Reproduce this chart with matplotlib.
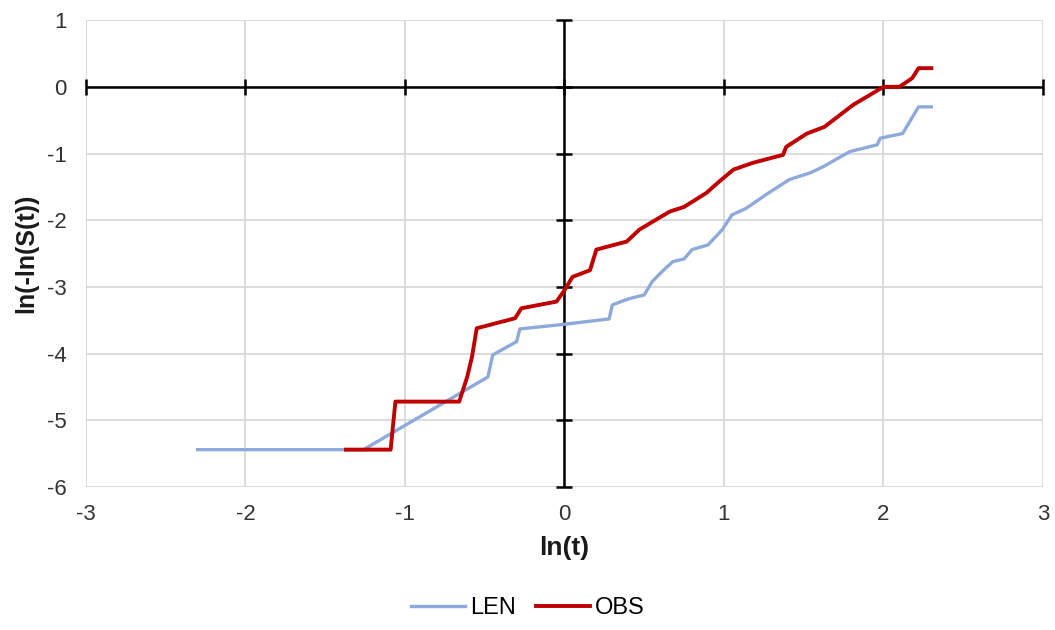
import matplotlib
matplotlib.use("Agg")
import matplotlib.pyplot as plt
import numpy as np

plt.rcParams['font.family'] = ['Liberation Sans', 'DejaVu Sans']
plt.rcParams['axes.unicode_minus'] = False

len_x = [-2.30, -1.26, -0.48, -0.45, -0.30, -0.28, 0.00, 0.28, 0.30, 0.40, 0.50, 0.55,
         0.62, 0.68, 0.75, 0.80, 0.90, 0.99, 1.05, 1.14, 1.28, 1.41, 1.54, 1.62, 1.73,
         1.79, 1.96, 1.98, 2.12, 2.17, 2.22, 2.30]
len_y = [-5.44, -5.44, -4.35, -4.02, -3.82, -3.63, -3.56, -3.48, -3.27, -3.18, -3.12, -2.92,
         -2.75, -2.62, -2.58, -2.44, -2.37, -2.14, -1.92, -1.82, -1.59, -1.39, -1.29, -1.20, -1.05,
         -0.97, -0.87, -0.77, -0.70, -0.50, -0.30, -0.30]

obs_x = [-1.37, -1.09, -1.06, -0.66, -0.61, -0.58, -0.55, -0.31, -0.27, -0.05, 0.00, 0.05,
         0.16, 0.20, 0.39, 0.47, 0.66, 0.75, 0.89, 0.97, 1.06, 1.18, 1.37, 1.39, 1.52, 1.63,
         1.81, 2.00, 2.10, 2.18, 2.22, 2.30]
obs_y = [-5.44, -5.44, -4.72, -4.72, -4.35, -4.05, -3.62, -3.47, -3.32, -3.22, -3.05, -2.85,
         -2.75, -2.44, -2.32, -2.14, -1.87, -1.80, -1.59, -1.42, -1.24, -1.14, -1.02, -0.90, -0.70, -0.60,
         -0.27, 0.00, 0.00, 0.13, 0.28, 0.28]

x_ticks = [-3, -2, -1, 0, 1, 2, 3]
y_ticks = [-6, -5, -4, -3, -2, -1, 0, 1]

fig = plt.figure(figsize=(10.55, 6.3), dpi=100)
ax = fig.add_axes([0.0815, 0.227, 0.9071, 0.741])
ax.set_xlim(-3, 3)
ax.set_ylim(-6, 1)
ax.set_xticks(x_ticks)
ax.set_yticks(y_ticks)
ax.grid(True, color='#d9d9d9', linewidth=1.3)
ax.set_axisbelow(True)
for s in ax.spines.values():
    s.set_visible(False)
ax.tick_params(length=0, labelsize=16, colors='#333333')
ax.tick_params(axis='x', pad=12)
ax.tick_params(axis='y', pad=14)

# zero axes with cross ticks
ax.axhline(0, color='black', lw=1.8, zorder=2)
ax.axvline(0, color='black', lw=1.8, zorder=2)
ax.plot(x_ticks, [0] * len(x_ticks), ls='none', marker='|', ms=11, mew=1.8, color='black', zorder=2, clip_on=False)
ax.plot([0] * len(y_ticks), y_ticks, ls='none', marker='_', ms=11, mew=1.8, color='black', zorder=2, clip_on=False)

ax.plot(len_x, len_y, color='#8eaadb', lw=2.4, label='LEN', zorder=3)
ax.plot(obs_x, obs_y, color='#c00000', lw=2.8, label='OBS', zorder=4)

ax.set_xlabel('ln(t)', fontsize=19, fontweight='bold', color='#1a1a1a', labelpad=8)
ax.set_ylabel('ln(-ln(S(t))', fontsize=18, fontweight='bold', color='#1a1a1a', labelpad=6)

fig.legend(loc='center', ncol=2, frameon=False, fontsize=17, handlelength=2.3,
           columnspacing=0.85, handletextpad=0.2, bbox_to_anchor=(0.5, 1 - 608 / 630))

fig.savefig('out.png', dpi=100)
